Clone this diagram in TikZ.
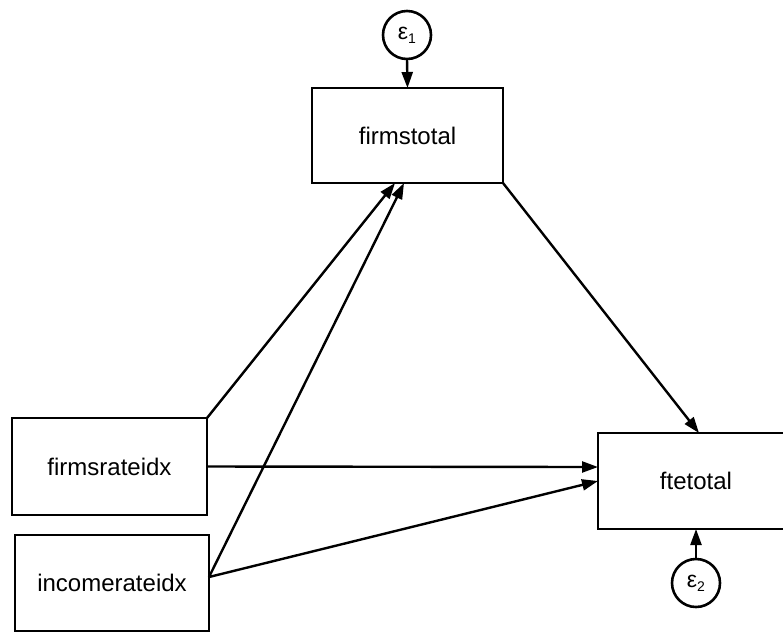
\documentclass[tikz,border=0pt]{standalone}
\usepackage{fontspec}
\setmainfont{Liberation Sans}
\usetikzlibrary{arrows.meta,calc}
\begin{document}
\begin{tikzpicture}[x=1pt,y=-1pt,
  every node/.style={font=\fontsize{24}{28}\selectfont},
  varbox/.style={draw,line width=2.6pt,rectangle,inner sep=0pt,outer sep=0pt},
  errc/.style={draw,line width=2.6pt,circle,minimum size=48pt,inner sep=0pt,outer sep=0pt},
  path/.style={line width=2.4pt,-{Triangle[length=16pt,width=11pt]}}]
\useasboundingbox (0,0) rectangle (783,633);
\node[varbox,minimum width=191pt,minimum height=95pt] (ft) at (407.5,135.5) {firmstotal};
\node[varbox,minimum width=195pt,minimum height=97pt] (fr) at (109.5,466.5) {firmsrateidx};
\node[varbox,minimum width=194pt,minimum height=96pt] (ir) at (112,583) {incomerateidx};
\node[varbox,minimum width=196pt,minimum height=96pt] (fe) at (696,481) {ftetotal};
\node[errc] (e1) at (407,35) {\fontsize{23}{27}\selectfont ε\raisebox{-0.3ex}{\fontsize{14}{16}\selectfont 1}};
\node[errc] (e2) at (696,583) {\fontsize{23}{27}\selectfont ε\raisebox{-0.3ex}{\fontsize{14}{16}\selectfont 2}};
\coordinate (irp) at ($(ir.east)+(0,-6)$);
\draw[path] (e1.south) -- (ft.north);
\draw[path] (e2.north) -- (fe.south);
\draw[path] (fr.north east) -- ($(ft.south west)+(83,0)$);
\draw[path] (irp) -- ($(ft.south west)+(92,0)$);
\draw[path] (fr.east) -- ($(fe.west)+(0,-14)$);
\draw[path] (irp) -- (fe.west);
\draw[path] (ft.south east) -- ($(fe.north west)+(101,0)$);
\end{tikzpicture}
\end{document}
